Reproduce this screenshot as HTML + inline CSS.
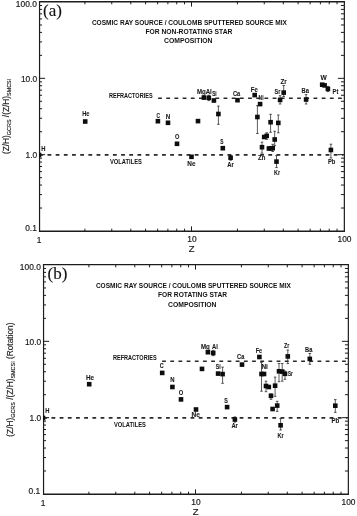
<!DOCTYPE html>
<html><head><meta charset="utf-8"><title>GCRS / SMCSI composition</title><style>
html,body{margin:0;padding:0;background:#fff;}
body{width:357px;height:516px;overflow:hidden;}
svg{display:block;will-change:transform;}
text{font-family:"Liberation Sans",sans-serif;}
.serif{font-family:"Liberation Serif",serif;}
</style></head><body>
<svg width="357" height="516" viewBox="0 0 357 516">
<defs><clipPath id="ca"><rect x="39" y="2" width="305" height="229"/></clipPath>
<clipPath id="cb"><rect x="43" y="265" width="305" height="229"/></clipPath></defs>
<rect width="357" height="516" fill="#fff"/>

<path d="M39 208.02h3.05M344 208.02h-3.05M39 194.58h3.05M344 194.58h-3.05M39 185.04h3.05M344 185.04h-3.05M39 177.65h3.05M344 177.65h-3.05M39 171.6h3.05M344 171.6h-3.05M39 166.49h3.05M344 166.49h-3.05M39 162.06h3.05M344 162.06h-3.05M39 158.16h3.05M344 158.16h-3.05M39 154.67h6.1M344 154.67h-6.1M39 131.69h3.05M344 131.69h-3.05M39 118.25h3.05M344 118.25h-3.05M39 108.71h3.05M344 108.71h-3.05M39 101.31h3.05M344 101.31h-3.05M39 95.27h3.05M344 95.27h-3.05M39 90.16h3.05M344 90.16h-3.05M39 85.73h3.05M344 85.73h-3.05M39 81.83h3.05M344 81.83h-3.05M39 78.33h6.1M344 78.33h-6.1M39 55.35h3.05M344 55.35h-3.05M39 41.91h3.05M344 41.91h-3.05M39 32.38h3.05M344 32.38h-3.05M39 24.98h3.05M344 24.98h-3.05M39 18.93h3.05M344 18.93h-3.05M39 13.82h3.05M344 13.82h-3.05M39 9.4h3.05M344 9.4h-3.05M39 5.49h3.05M344 5.49h-3.05M84.91 231v-2.3M84.91 2v2.3M111.76 231v-2.3M111.76 2v2.3M130.81 231v-2.3M130.81 2v2.3M145.59 231v-2.3M145.59 2v2.3M157.67 231v-2.3M157.67 2v2.3M167.88 231v-2.3M167.88 2v2.3M176.72 231v-2.3M176.72 2v2.3M184.52 231v-2.3M184.52 2v2.3M191.5 231v-4.6M191.5 2v4.6M237.41 231v-2.3M237.41 2v2.3M264.26 231v-2.3M264.26 2v2.3M283.31 231v-2.3M283.31 2v2.3M298.09 231v-2.3M298.09 2v2.3M310.17 231v-2.3M310.17 2v2.3M320.38 231v-2.3M320.38 2v2.3M329.22 231v-2.3M329.22 2v2.3M337.02 231v-2.3M337.02 2v2.3" stroke="#1c1c1c" stroke-width="1" fill="none"/>
<path d="M39.55 1.1V232" stroke="#1c1c1c" stroke-width="1.2"/>
<path d="M344.35 1.1V232" stroke="#1c1c1c" stroke-width="1.2"/>
<path d="M38.95 1.75H344.95" stroke="#1c1c1c" stroke-width="1.3"/>
<path d="M38.95 231.3H344.95" stroke="#1c1c1c" stroke-width="1.4"/>
<path d="M39.3 154.9H343.5" stroke="#2a2a2a" stroke-width="1.6" stroke-dasharray="3.8 4.38" fill="none"/>
<path d="M158.1 98.3H343.5" stroke="#2a2a2a" stroke-width="1.45" stroke-dasharray="3.8 4.38" fill="none"/>
<g fill="#1a1a1a" stroke="#1a1a1a" stroke-width="0.18"><text x="36.8" y="7" font-size="8.4" text-anchor="end" >100.0</text><text x="37.2" y="81.5" font-size="8.4" text-anchor="end" >10.0</text><text x="37.2" y="157.8" font-size="8.4" text-anchor="end" >1.0</text><text x="36.8" y="231.3" font-size="8.4" text-anchor="end" >0.1</text><text x="39" y="242.8" font-size="8.4" text-anchor="middle" >1</text><text x="192" y="242.4" font-size="8.4" text-anchor="middle" >10</text><text x="344.5" y="242.3" font-size="8.4" text-anchor="middle" >100</text><text x="191.7" y="251.7" font-size="9.5" text-anchor="middle" >Z</text></g>
<g fill="#111" font-weight="bold" font-size="7.6" text-anchor="middle">
<text x="189.4" y="24.8" textLength="195" lengthAdjust="spacingAndGlyphs">COSMIC RAY SOURCE / COULOMB SPUTTERED SOURCE MIX</text>
<text x="188.9" y="33.8" textLength="87" lengthAdjust="spacingAndGlyphs">FOR NON-ROTATING STAR</text>
<text x="188.3" y="43.3" textLength="48.4" lengthAdjust="spacingAndGlyphs">COMPOSITION</text>
</g>
<g fill="#111" font-weight="bold" font-size="6.3">
<text x="109" y="98.2" textLength="43.6" lengthAdjust="spacingAndGlyphs">REFRACTORIES</text>
<text x="110" y="164.3" textLength="31.9" lengthAdjust="spacingAndGlyphs">VOLATILES</text>
</g>
<path d="M43 471.02h3.05M348 471.02h-3.05M43 457.58h3.05M348 457.58h-3.05M43 448.04h3.05M348 448.04h-3.05M43 440.65h3.05M348 440.65h-3.05M43 434.6h3.05M348 434.6h-3.05M43 429.49h3.05M348 429.49h-3.05M43 425.06h3.05M348 425.06h-3.05M43 421.16h3.05M348 421.16h-3.05M43 417.67h6.1M348 417.67h-6.1M43 394.69h3.05M348 394.69h-3.05M43 381.25h3.05M348 381.25h-3.05M43 371.71h3.05M348 371.71h-3.05M43 364.31h3.05M348 364.31h-3.05M43 358.27h3.05M348 358.27h-3.05M43 353.16h3.05M348 353.16h-3.05M43 348.73h3.05M348 348.73h-3.05M43 344.83h3.05M348 344.83h-3.05M43 341.33h6.1M348 341.33h-6.1M43 318.35h3.05M348 318.35h-3.05M43 304.91h3.05M348 304.91h-3.05M43 295.38h3.05M348 295.38h-3.05M43 287.98h3.05M348 287.98h-3.05M43 281.93h3.05M348 281.93h-3.05M43 276.82h3.05M348 276.82h-3.05M43 272.4h3.05M348 272.4h-3.05M43 268.49h3.05M348 268.49h-3.05M88.91 494v-2.3M88.91 265v2.3M115.76 494v-2.3M115.76 265v2.3M134.81 494v-2.3M134.81 265v2.3M149.59 494v-2.3M149.59 265v2.3M161.67 494v-2.3M161.67 265v2.3M171.88 494v-2.3M171.88 265v2.3M180.72 494v-2.3M180.72 265v2.3M188.52 494v-2.3M188.52 265v2.3M195.5 494v-4.6M195.5 265v4.6M241.41 494v-2.3M241.41 265v2.3M268.26 494v-2.3M268.26 265v2.3M287.31 494v-2.3M287.31 265v2.3M302.09 494v-2.3M302.09 265v2.3M314.17 494v-2.3M314.17 265v2.3M324.38 494v-2.3M324.38 265v2.3M333.22 494v-2.3M333.22 265v2.3M341.02 494v-2.3M341.02 265v2.3" stroke="#1c1c1c" stroke-width="1" fill="none"/>
<path d="M43.55 263.95V495" stroke="#1c1c1c" stroke-width="1.2"/>
<path d="M348.35 263.95V495" stroke="#1c1c1c" stroke-width="1.2"/>
<path d="M42.95 264.6H348.95" stroke="#1c1c1c" stroke-width="1.3"/>
<path d="M42.95 494.3H348.95" stroke="#1c1c1c" stroke-width="1.4"/>
<path d="M43.3 417.9H347.5" stroke="#2a2a2a" stroke-width="1.6" stroke-dasharray="3.8 4.38" fill="none"/>
<path d="M162.1 361.3H347.5" stroke="#2a2a2a" stroke-width="1.45" stroke-dasharray="3.8 4.38" fill="none"/>
<g fill="#1a1a1a" stroke="#1a1a1a" stroke-width="0.18"><text x="40.8" y="270" font-size="8.4" text-anchor="end" >100.0</text><text x="41.2" y="344.5" font-size="8.4" text-anchor="end" >10.0</text><text x="41.2" y="420.8" font-size="8.4" text-anchor="end" >1.0</text><text x="40.2" y="494.3" font-size="8.4" text-anchor="end" >0.1</text><text x="43" y="505.5" font-size="8.4" text-anchor="middle" >1</text><text x="196" y="505.4" font-size="8.4" text-anchor="middle" >10</text><text x="348.5" y="505.3" font-size="8.4" text-anchor="middle" >100</text><text x="195.7" y="514.7" font-size="9.5" text-anchor="middle" >Z</text></g>
<g fill="#111" font-weight="bold" font-size="7.6" text-anchor="middle">
<text x="193.4" y="287.8" textLength="195" lengthAdjust="spacingAndGlyphs">COSMIC RAY SOURCE / COULOMB SPUTTERED SOURCE MIX</text>
<text x="192.5" y="297.2" textLength="69" lengthAdjust="spacingAndGlyphs">FOR ROTATING STAR</text>
<text x="192.3" y="306.7" textLength="48.4" lengthAdjust="spacingAndGlyphs">COMPOSITION</text>
</g>
<g fill="#111" font-weight="bold" font-size="6.3">
<text x="113" y="360.2" textLength="43.6" lengthAdjust="spacingAndGlyphs">REFRACTORIES</text>
<text x="114" y="427.3" textLength="31.9" lengthAdjust="spacingAndGlyphs">VOLATILES</text>
</g>
<text class="serif" x="43.1" y="16" font-size="17" fill="#111" stroke="#111" stroke-width="0.12">(a)</text>
<text class="serif" x="47.6" y="279" font-size="17" fill="#111" stroke="#111" stroke-width="0.12">(b)</text>
<text transform="translate(8.6 154.1) rotate(-90)" font-size="8.3" fill="#1a1a1a" stroke="#1a1a1a" stroke-width="0.15">(Z/H)<tspan font-size="5.45" dy="2.5">GCRS</tspan><tspan dy="-2.5"> /(Z/H)</tspan><tspan font-size="5.45" dy="2.5">SMCSI</tspan></text>
<text transform="translate(12.5 436.7) rotate(-90)" font-size="8.3" fill="#1a1a1a" stroke="#1a1a1a" stroke-width="0.15">(Z/H)<tspan font-size="5.45" dy="2.5">GCRS</tspan><tspan dy="-2.5"> /(Z/H)</tspan><tspan font-size="5.45" dy="2.5">SMCSI</tspan><tspan dy="-2.5"> (Rotation)</tspan></text>
<g clip-path="url(#ca)">
<rect x="36.7" y="152.7" width="4.6" height="4.6" fill="#0d0d0d"/>
<rect x="82.9" y="119.2" width="4.6" height="4.6" fill="#0d0d0d"/>
<rect x="155.6" y="118.9" width="4.6" height="4.6" fill="#0d0d0d"/>
<rect x="165.7" y="120.5" width="4.6" height="4.6" fill="#0d0d0d"/>
<rect x="174.7" y="141.5" width="4.6" height="4.6" fill="#0d0d0d"/>
<rect x="189.2" y="154.5" width="4.6" height="4.6" fill="#0d0d0d"/>
<rect x="195.7" y="118.8" width="4.6" height="4.6" fill="#0d0d0d"/>
<rect x="201.6" y="95.3" width="4.6" height="4.6" fill="#0d0d0d"/>
<path d="M208.8 95.2V100.6M207.5 95.2h2.6M207.5 100.6h2.6" stroke="#262626" stroke-width="0.75" fill="none"/><rect x="206.5" y="95.5" width="4.6" height="4.6" fill="#0d0d0d"/>
<rect x="211.6" y="98.2" width="4.6" height="4.6" fill="#0d0d0d"/>
<path d="M218.4 106.1V124.3M217.1 106.1h2.6M217.1 124.3h2.6" stroke="#262626" stroke-width="0.75" fill="none"/><rect x="216.1" y="111.7" width="4.6" height="4.6" fill="#0d0d0d"/>
<rect x="220.5" y="145.9" width="4.6" height="4.6" fill="#0d0d0d"/>
<path d="M230.6 155.3V160.2M229.3 155.3h2.6M229.3 160.2h2.6" stroke="#262626" stroke-width="0.75" fill="none"/><rect x="228.3" y="155.4" width="4.6" height="4.6" fill="#0d0d0d"/>
<rect x="235.2" y="97.9" width="4.6" height="4.6" fill="#0d0d0d"/>
<rect x="252.4" y="92.8" width="4.6" height="4.6" fill="#0d0d0d"/>
<path d="M257.4 105.6V133.5M256.1 105.6h2.6M256.1 133.5h2.6" stroke="#262626" stroke-width="0.75" fill="none"/><rect x="255.1" y="114.7" width="4.6" height="4.6" fill="#0d0d0d"/>
<rect x="257.8" y="101.8" width="4.6" height="4.6" fill="#0d0d0d"/>
<path d="M262 142.1V153.2M260.7 142.1h2.6M260.7 153.2h2.6" stroke="#262626" stroke-width="0.75" fill="none"/><rect x="259.7" y="144.9" width="4.6" height="4.6" fill="#0d0d0d"/>
<rect x="261.9" y="134.7" width="4.6" height="4.6" fill="#0d0d0d"/>
<path d="M266.7 132.8V139.4M265.4 132.8h2.6M265.4 139.4h2.6" stroke="#262626" stroke-width="0.75" fill="none"/><rect x="264.4" y="133.6" width="4.6" height="4.6" fill="#0d0d0d"/>
<path d="M270.6 114.3V132.3M269.3 114.3h2.6M269.3 132.3h2.6" stroke="#262626" stroke-width="0.75" fill="none"/><rect x="268.3" y="119.9" width="4.6" height="4.6" fill="#0d0d0d"/>
<rect x="266.6" y="146.2" width="4.6" height="4.6" fill="#0d0d0d"/>
<rect x="268.6" y="146" width="4.6" height="4.6" fill="#0d0d0d"/>
<path d="M272.7 144.3V151.5M271.4 144.3h2.6M271.4 151.5h2.6" stroke="#262626" stroke-width="0.75" fill="none"/><rect x="270.4" y="145.9" width="4.6" height="4.6" fill="#0d0d0d"/>
<path d="M274.7 131.3V145.6M273.4 131.3h2.6M273.4 145.6h2.6" stroke="#262626" stroke-width="0.75" fill="none"/><rect x="272.4" y="137.2" width="4.6" height="4.6" fill="#0d0d0d"/>
<path d="M276.5 155.6V167.6M275.2 155.6h2.6M275.2 167.6h2.6" stroke="#262626" stroke-width="0.75" fill="none"/><rect x="274.2" y="159.3" width="4.6" height="4.6" fill="#0d0d0d"/>
<path d="M278.3 115V132.8M277 115h2.6M277 132.8h2.6" stroke="#262626" stroke-width="0.75" fill="none"/><rect x="276" y="120.6" width="4.6" height="4.6" fill="#0d0d0d"/>
<path d="M280.1 95.7V104M278.8 95.7h2.6M278.8 104h2.6" stroke="#262626" stroke-width="0.75" fill="none"/><rect x="277.8" y="97.6" width="4.6" height="4.6" fill="#0d0d0d"/>
<path d="M283.7 85.5V96.5M282.4 85.5h2.6M282.4 96.5h2.6" stroke="#262626" stroke-width="0.75" fill="none"/><rect x="281.4" y="90.3" width="4.6" height="4.6" fill="#0d0d0d"/>
<path d="M306.1 94.6V104M304.8 94.6h2.6M304.8 104h2.6" stroke="#262626" stroke-width="0.75" fill="none"/><rect x="303.8" y="97.2" width="4.6" height="4.6" fill="#0d0d0d"/>
<rect x="319.9" y="82.4" width="4.6" height="4.6" fill="#0d0d0d"/>
<rect x="322.3" y="83.1" width="4.6" height="4.6" fill="#0d0d0d"/>
<path d="M327.9 86.4V91.6M326.6 86.4h2.6M326.6 91.6h2.6" stroke="#262626" stroke-width="0.75" fill="none"/><rect x="325.6" y="86.6" width="4.6" height="4.6" fill="#0d0d0d"/>
<path d="M330.9 144.2V158M329.6 144.2h2.6M329.6 158h2.6" stroke="#262626" stroke-width="0.75" fill="none"/><rect x="328.6" y="147.7" width="4.6" height="4.6" fill="#0d0d0d"/>
</g>
<g clip-path="url(#cb)">
<rect x="40.7" y="415.7" width="4.6" height="4.6" fill="#0d0d0d"/>
<rect x="86.9" y="381.9" width="4.6" height="4.6" fill="#0d0d0d"/>
<rect x="159.9" y="370.6" width="4.6" height="4.6" fill="#0d0d0d"/>
<rect x="170.1" y="384.7" width="4.6" height="4.6" fill="#0d0d0d"/>
<rect x="178.7" y="397.1" width="4.6" height="4.6" fill="#0d0d0d"/>
<rect x="193.7" y="407.2" width="4.6" height="4.6" fill="#0d0d0d"/>
<rect x="199.7" y="366.6" width="4.6" height="4.6" fill="#0d0d0d"/>
<rect x="205.6" y="349.9" width="4.6" height="4.6" fill="#0d0d0d"/>
<path d="M213.2 350.4V355.7M211.9 350.4h2.6M211.9 355.7h2.6" stroke="#262626" stroke-width="0.75" fill="none"/><rect x="210.9" y="350.7" width="4.6" height="4.6" fill="#0d0d0d"/>
<rect x="215.8" y="371.3" width="4.6" height="4.6" fill="#0d0d0d"/>
<path d="M222.6 367.1V383.3M221.3 367.1h2.6M221.3 383.3h2.6" stroke="#262626" stroke-width="0.75" fill="none"/><rect x="220.3" y="371.8" width="4.6" height="4.6" fill="#0d0d0d"/>
<rect x="224.8" y="404.8" width="4.6" height="4.6" fill="#0d0d0d"/>
<path d="M234.9 416.9V422.1M233.6 416.9h2.6M233.6 422.1h2.6" stroke="#262626" stroke-width="0.75" fill="none"/><rect x="232.6" y="417.2" width="4.6" height="4.6" fill="#0d0d0d"/>
<rect x="239.7" y="362.3" width="4.6" height="4.6" fill="#0d0d0d"/>
<rect x="257.1" y="354.7" width="4.6" height="4.6" fill="#0d0d0d"/>
<path d="M261.5 362.5V391.2M260.2 362.5h2.6M260.2 391.2h2.6" stroke="#262626" stroke-width="0.75" fill="none"/><rect x="259.2" y="371.7" width="4.6" height="4.6" fill="#0d0d0d"/>
<rect x="261.7" y="371.7" width="4.6" height="4.6" fill="#0d0d0d"/>
<path d="M266 381.2V391.7M264.7 381.2h2.6M264.7 391.7h2.6" stroke="#262626" stroke-width="0.75" fill="none"/><rect x="263.7" y="383.7" width="4.6" height="4.6" fill="#0d0d0d"/>
<rect x="266.5" y="384.7" width="4.6" height="4.6" fill="#0d0d0d"/>
<path d="M275.1 377.1V396.3M273.8 377.1h2.6M273.8 396.3h2.6" stroke="#262626" stroke-width="0.75" fill="none"/><rect x="272.8" y="383.4" width="4.6" height="4.6" fill="#0d0d0d"/>
<path d="M271 394V399.3M269.7 394h2.6M269.7 399.3h2.6" stroke="#262626" stroke-width="0.75" fill="none"/><rect x="268.7" y="393.5" width="4.6" height="4.6" fill="#0d0d0d"/>
<rect x="270.3" y="406.7" width="4.6" height="4.6" fill="#0d0d0d"/>
<path d="M277.2 401.3V411.4M275.9 401.3h2.6M275.9 411.4h2.6" stroke="#262626" stroke-width="0.75" fill="none"/><rect x="274.9" y="403.3" width="4.6" height="4.6" fill="#0d0d0d"/>
<path d="M280.6 418.6V430M279.3 418.6h2.6M279.3 430h2.6" stroke="#262626" stroke-width="0.75" fill="none"/><rect x="278.3" y="423" width="4.6" height="4.6" fill="#0d0d0d"/>
<path d="M279 363.5V381.7M277.7 363.5h2.6M277.7 381.7h2.6" stroke="#262626" stroke-width="0.75" fill="none"/><rect x="276.7" y="369" width="4.6" height="4.6" fill="#0d0d0d"/>
<path d="M282.2 363.5V381.2M280.9 363.5h2.6M280.9 381.2h2.6" stroke="#262626" stroke-width="0.75" fill="none"/><rect x="279.9" y="369.3" width="4.6" height="4.6" fill="#0d0d0d"/>
<path d="M285 371V379.3M283.7 371h2.6M283.7 379.3h2.6" stroke="#262626" stroke-width="0.75" fill="none"/><rect x="282.7" y="371.5" width="4.6" height="4.6" fill="#0d0d0d"/>
<path d="M287.8 350V363.6M286.5 350h2.6M286.5 363.6h2.6" stroke="#262626" stroke-width="0.75" fill="none"/><rect x="285.5" y="354.1" width="4.6" height="4.6" fill="#0d0d0d"/>
<path d="M309.8 353.5V364.3M308.5 353.5h2.6M308.5 364.3h2.6" stroke="#262626" stroke-width="0.75" fill="none"/><rect x="307.5" y="356.6" width="4.6" height="4.6" fill="#0d0d0d"/>
<path d="M335.3 399.6V412.4M334 399.6h2.6M334 412.4h2.6" stroke="#262626" stroke-width="0.75" fill="none"/><rect x="333" y="403.4" width="4.6" height="4.6" fill="#0d0d0d"/>
</g>
<g fill="#1a1a1a" stroke="#1a1a1a" stroke-width="0.1" font-size="6.4" font-weight="bold">
<text x="82.2" y="116.3" textLength="7.3" lengthAdjust="spacingAndGlyphs">He</text>
<text x="41.2" y="150.6" textLength="4.2" lengthAdjust="spacingAndGlyphs">H</text>
<text x="156.4" y="117.6" textLength="3.4" lengthAdjust="spacingAndGlyphs">C</text>
<text x="165.7" y="118.8" textLength="4.5" lengthAdjust="spacingAndGlyphs">N</text>
<text x="175" y="139.2" textLength="4.4" lengthAdjust="spacingAndGlyphs">O</text>
<text x="187.3" y="166.3" textLength="8.2" lengthAdjust="spacingAndGlyphs">Ne</text>
<text x="196.9" y="93.8" textLength="14.9" lengthAdjust="spacingAndGlyphs">MgAl</text>
<text x="212.2" y="96.2" textLength="4.5" lengthAdjust="spacingAndGlyphs">Si</text>
<text x="220.2" y="143.6" textLength="3.2" lengthAdjust="spacingAndGlyphs">S</text>
<text x="227.3" y="167.3" textLength="6.6" lengthAdjust="spacingAndGlyphs">Ar</text>
<text x="233" y="96.2" textLength="7.2" lengthAdjust="spacingAndGlyphs">Ca</text>
<text x="250.8" y="91.9" textLength="7.1" lengthAdjust="spacingAndGlyphs">Fe</text>
<text x="258.6" y="100.1" textLength="5" lengthAdjust="spacingAndGlyphs">Ni</text>
<text x="258" y="160.4" textLength="7.3" lengthAdjust="spacingAndGlyphs">Zn</text>
<text x="274" y="175.3" textLength="6" lengthAdjust="spacingAndGlyphs">Kr</text>
<text x="274.6" y="94.2" textLength="5.9" lengthAdjust="spacingAndGlyphs">Sr</text>
<text x="280.5" y="83.7" textLength="6.3" lengthAdjust="spacingAndGlyphs">Zr</text>
<text x="301.5" y="92.9" textLength="7.4" lengthAdjust="spacingAndGlyphs">Ba</text>
<text x="320.4" y="79.5" textLength="6.3" lengthAdjust="spacingAndGlyphs">W</text>
<text x="332.6" y="93.6" textLength="5.7" lengthAdjust="spacingAndGlyphs">Pt</text>
<text x="328" y="164.3" textLength="7.4" lengthAdjust="spacingAndGlyphs">Pb</text>
<text x="86" y="379.7" textLength="8.1" lengthAdjust="spacingAndGlyphs">He</text>
<text x="45.3" y="413" textLength="4.2" lengthAdjust="spacingAndGlyphs">H</text>
<text x="159.8" y="368.3" textLength="3.9" lengthAdjust="spacingAndGlyphs">C</text>
<text x="170.2" y="381.7" textLength="4.3" lengthAdjust="spacingAndGlyphs">N</text>
<text x="178.8" y="394.8" textLength="4.5" lengthAdjust="spacingAndGlyphs">O</text>
<text x="191.6" y="417" textLength="8.4" lengthAdjust="spacingAndGlyphs">Ne</text>
<text x="201" y="348.7" textLength="8.8" lengthAdjust="spacingAndGlyphs">Mg</text>
<text x="212.1" y="349.3" textLength="5.8" lengthAdjust="spacingAndGlyphs">Al</text>
<text x="215.7" y="369.3" textLength="5" lengthAdjust="spacingAndGlyphs">Si</text>
<text x="224.3" y="402.9" textLength="3.6" lengthAdjust="spacingAndGlyphs">S</text>
<text x="231.4" y="427.9" textLength="6.5" lengthAdjust="spacingAndGlyphs">Ar</text>
<text x="237.1" y="359" textLength="7.2" lengthAdjust="spacingAndGlyphs">Ca</text>
<text x="255.7" y="352.9" textLength="6.4" lengthAdjust="spacingAndGlyphs">Fe</text>
<text x="261.4" y="369.3" textLength="6.5" lengthAdjust="spacingAndGlyphs">Ni</text>
<text x="284" y="347.9" textLength="5.3" lengthAdjust="spacingAndGlyphs">Zr</text>
<text x="288" y="376.4" textLength="4.9" lengthAdjust="spacingAndGlyphs">Sr</text>
<text x="277.4" y="437.9" textLength="6.2" lengthAdjust="spacingAndGlyphs">Kr</text>
<text x="305.1" y="352" textLength="7.3" lengthAdjust="spacingAndGlyphs">Ba</text>
<text x="331.4" y="423.1" textLength="7.8" lengthAdjust="spacingAndGlyphs">Pb</text>
</g>
</svg>
</body></html>
